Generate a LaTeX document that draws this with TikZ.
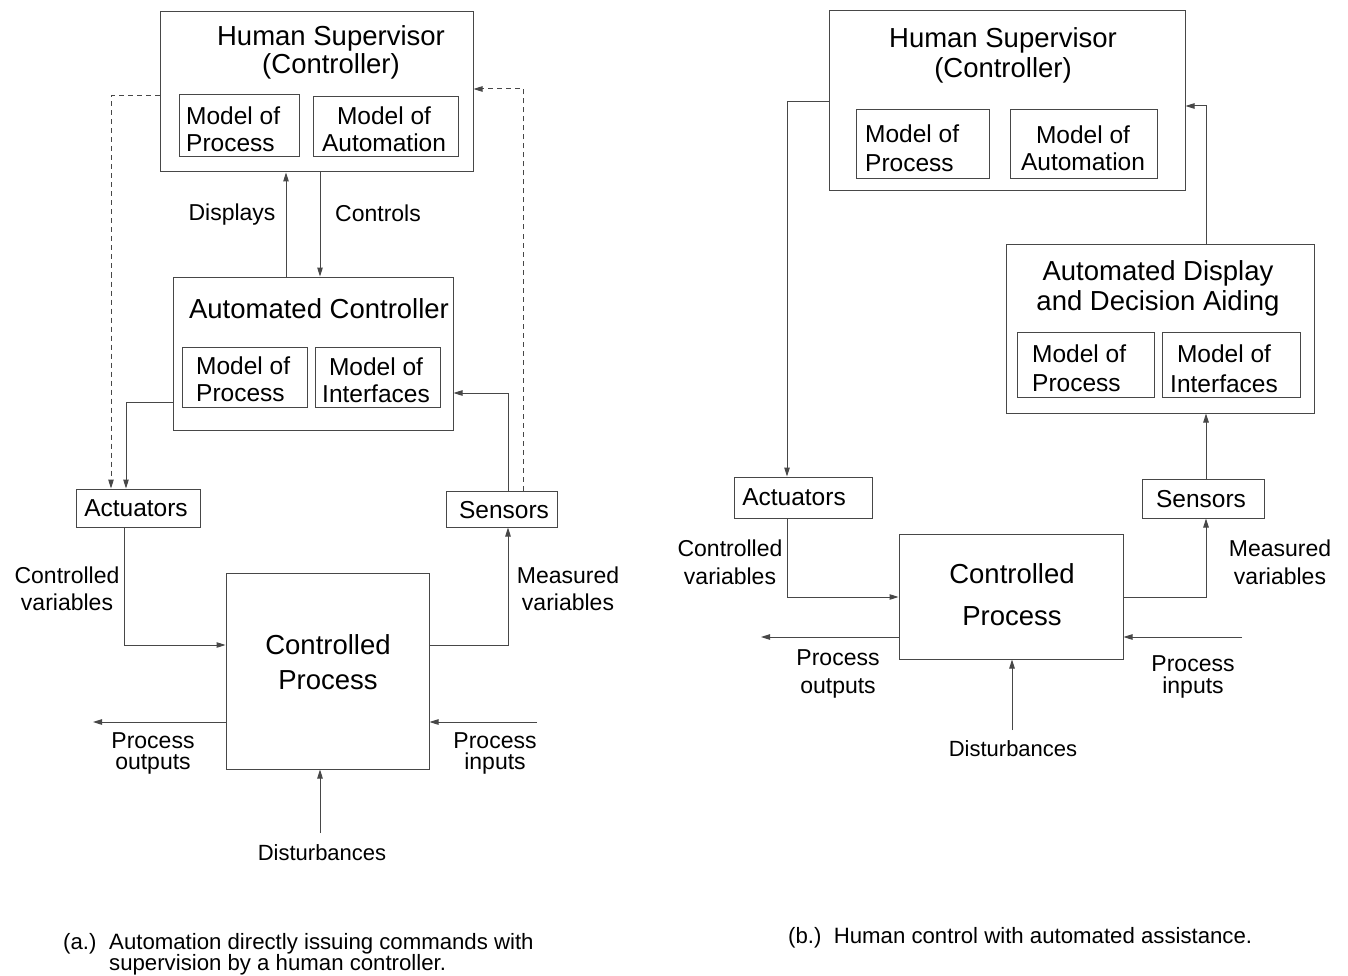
\documentclass[tikz,border=0pt]{standalone}
\usepackage{fontspec}
\setmainfont{Liberation Sans}
\usetikzlibrary{arrows.meta}
\begin{document}
\begin{tikzpicture}[x=1pt,y=-1pt,
  line/.style={draw=black!72, line width=1pt},
  arr/.style={line, -{Triangle[length=9pt,width=5.5pt]}},
  dsh/.style={arr, dash pattern=on 5pt off 4pt},
  frame/.style={line, rectangle, inner sep=0pt},
  ttl/.style={font=\fontsize{27.5}{28}\selectfont, align=center, inner sep=0pt},
  mdl/.style={font=\fontsize{24.5}{27}\selectfont, inner sep=0pt},
  lbl/.style={font=\fontsize{23}{27}\selectfont, align=center, inner sep=0pt},
  capt/.style={font=\fontsize{22.2}{21}\selectfont, inner sep=0pt, anchor=west, align=left}
]
\useasboundingbox (0,0) rectangle (1348,976);

% ---------------- (a) automation with human supervision ----------------
\node[frame, minimum width=313, minimum height=160] (hsA) at (316.5,92) {};
\node[ttl] (hsAt) at (331,52) {Human Supervisor\\(Controller)};
\node[frame, minimum width=120, minimum height=62] (mpA) at (239,126) {};
\node[mdl, align=left, anchor=west] (mpAt) at (186,129.5) {Model of\\Process};
\node[frame, minimum width=145, minimum height=60] (maA) at (385.5,127) {};
\node[mdl, align=center] (maAt) at (384,129.5) {Model of\\Automation};

\node[frame, minimum width=280, minimum height=153] (acA) at (313,353.5) {};
\node[ttl] (acAt) at (319,309) {Automated Controller};
\node[frame, minimum width=125, minimum height=60] (mpA2) at (244.5,377) {};
\node[mdl, align=left, anchor=west] (mpA2t) at (196,379.5) {Model of\\Process};
\node[frame, minimum width=125, minimum height=60] (miA) at (377.5,377) {};
\node[mdl, align=center] (miAt) at (376,380.5) {Model of\\Interfaces};

\node[frame, minimum width=124, minimum height=38] (actA) at (138,508) {};
\node[mdl] (actAt) at (136,508) {Actuators};
\node[frame, minimum width=111, minimum height=36] (senA) at (501.5,509) {};
\node[mdl] (senAt) at (504,510) {Sensors};

\node[frame, minimum width=203, minimum height=196] (cpA) at (327.5,671) {};
\node[font=\fontsize{27.5}{35}\selectfont, align=center, inner sep=0pt] (cpAt) at (328,662) {Controlled\\Process};

\node[lbl] (dispA) at (232,215) {Displays};
\node[lbl] (ctrlA) at (378,213) {Controls};
\node[lbl] (cvA) at (67,589) {Controlled\\variables};
\node[lbl] (mvA) at (568,589) {Measured\\variables};
\node[lbl, font=\fontsize{23}{21}\selectfont] (poA) at (153,753) {Process\\outputs};
\node[lbl, font=\fontsize{23}{21}\selectfont] (piA) at (495,753) {Process\\inputs};
\node[lbl, font=\fontsize{22}{26}\selectfont] (dsA) at (322,853) {Disturbances};

% connectors of (a)
\coordinate (pA5) at (286,0);
\draw[arr] (acA.north -| pA5) -- (hsA.south -| pA5);
\coordinate (pA6) at (320,0);
\draw[arr] (hsA.south -| pA6) -- (acA.north -| pA6);
\coordinate (pA1) at (111,96);
\draw[dsh] (hsA.west |- pA1) -| (actA.north -| pA1);
\coordinate (pA2) at (126,402);
\draw[arr] (acA.west |- pA2) -| (actA.north -| pA2);
\coordinate (pA3) at (523,89);
\draw[dsh] (senA.north -| pA3) |- (hsA.east |- pA3);
\coordinate (pA4) at (508,393);
\draw[arr] (senA.north -| pA4) |- (acA.east |- pA4);
\coordinate (pA7) at (124,645);
\draw[arr] (actA.south -| pA7) |- (cpA.west |- pA7);
\coordinate (pA8) at (508,645);
\draw[arr] (cpA.east |- pA8) -| (senA.south -| pA8);
\coordinate (outA) at (93,722);
\draw[arr] (cpA.west |- outA) -- (outA);
\coordinate (inA) at (537,722);
\draw[arr] (inA) -- (cpA.east |- inA);
\coordinate (distA) at (320,833);
\draw[arr] (distA) -- (cpA.south -| distA);

\node[capt] (capA1) at (63,944) {(a.)};
\node[capt] (capA2) at (109,954.5) {Automation directly issuing commands with\\supervision by a human controller.};

% ---------------- (b) human control with automated assistance ----------------
\node[frame, minimum width=356, minimum height=180] (hsB) at (1007,101) {};
\node[ttl, font=\fontsize{27.5}{30}\selectfont] (hsBt) at (1003,55) {Human Supervisor\\(Controller)};
\node[frame, minimum width=133, minimum height=69] (mpB) at (922.5,144.5) {};
\node[mdl, font=\fontsize{24.5}{29}\selectfont, align=left, anchor=west] (mpBt) at (865,148) {Model of\\Process};
\node[frame, minimum width=147, minimum height=69] (maB) at (1083.5,144.5) {};
\node[mdl, align=center] (maBt) at (1083,148.5) {Model of\\Automation};

\node[frame, minimum width=308, minimum height=168] (addaB) at (1160,329) {};
\node[ttl, font=\fontsize{27.5}{30}\selectfont] (addaBt) at (1158,288) {Automated Display\\and Decision Aiding};
\node[frame, minimum width=137, minimum height=65] (mpB2) at (1085.5,364.5) {};
\node[mdl, font=\fontsize{24.5}{29}\selectfont, align=left, anchor=west] (mpB2t) at (1032,368) {Model of\\Process};
\node[frame, minimum width=138, minimum height=65] (miB) at (1231,364.5) {};
\node[mdl, font=\fontsize{24.5}{30}\selectfont, align=center] (miBt) at (1224,368.5) {Model of\\Interfaces};

\node[frame, minimum width=138, minimum height=41] (actB) at (803,497.5) {};
\node[mdl] (actBt) at (794,497) {Actuators};
\node[frame, minimum width=122, minimum height=39] (senB) at (1203,498.5) {};
\node[mdl] (senBt) at (1201,499) {Sensors};

\node[frame, minimum width=224, minimum height=125] (cpB) at (1011,596.5) {};
\node[font=\fontsize{27.5}{42}\selectfont, align=center, inner sep=0pt] (cpBt) at (1012,595) {Controlled\\Process};

\node[lbl, font=\fontsize{23}{28}\selectfont] (cvB) at (730,562) {Controlled\\variables};
\node[lbl, font=\fontsize{23}{28}\selectfont] (mvB) at (1280,562) {Measured\\variables};
\node[lbl, font=\fontsize{23}{28}\selectfont] (poB) at (838,674) {Process\\outputs};
\node[lbl, font=\fontsize{23}{22}\selectfont] (piB) at (1193,677) {Process\\inputs};
\node[lbl, font=\fontsize{22}{26}\selectfont] (dsB) at (1013,749) {Disturbances};

% connectors of (b)
\coordinate (pB1) at (787,102);
\draw[arr] (hsB.west |- pB1) -| (actB.north -| pB1);
\coordinate (pB2) at (787,597);
\draw[arr] (actB.south -| pB2) |- (cpB.west |- pB2);
\coordinate (pB3) at (1206,597);
\draw[arr] (cpB.east |- pB3) -| (senB.south -| pB3);
\draw[arr] (senB.north -| pB3) -- (addaB.south -| pB3);
\coordinate (pB4) at (1206,106);
\draw[arr] (addaB.north -| pB4) |- (hsB.east |- pB4);
\coordinate (outB) at (761,637);
\draw[arr] (cpB.west |- outB) -- (outB);
\coordinate (inB) at (1242,637);
\draw[arr] (inB) -- (cpB.east |- inB);
\coordinate (distB) at (1012,730);
\draw[arr] (distB) -- (cpB.south -| distB);

\node[capt] (capB) at (788,938) {(b.)\ \ Human control with automated assistance.};
\end{tikzpicture}
\end{document}
